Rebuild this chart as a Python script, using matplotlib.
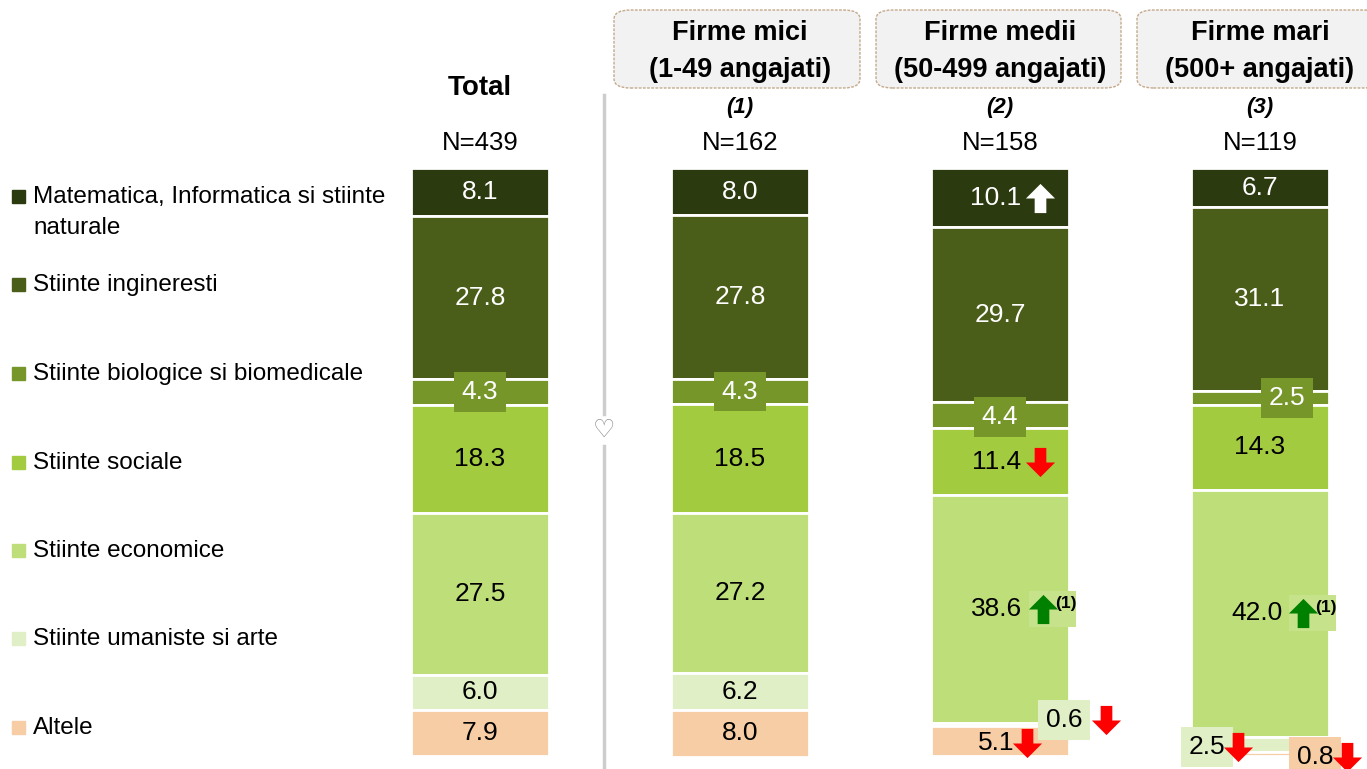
import matplotlib
matplotlib.use("Agg")
import numpy as np
import matplotlib.pyplot as plt
from matplotlib.path import Path
from matplotlib.patches import FancyBboxPatch, Rectangle
import matplotlib.transforms as mtransforms

plt.rcParams['font.family'] = ['Liberation Sans', 'DejaVu Sans']

# data
categories = ["Matematica, Informatica si stiinte\nnaturale", "Stiinte ingineresti",
              "Stiinte biologice si biomedicale", "Stiinte sociale", "Stiinte economice",
              "Stiinte umaniste si arte", "Altele"]
groups = ["Total", "Firme mici\n(1-49 angajati)", "Firme medii\n(50-499 angajati)",
          "Firme mari\n(500+ angajati)"]
group_ids = ["", "(1)", "(2)", "(3)"]
n_sizes = [439, 162, 158, 119]
total = [8.1, 27.8, 4.3, 18.3, 27.5, 6.0, 7.9]
mici = [8.0, 27.8, 4.3, 18.5, 27.2, 6.2, 8.0]
medii = [10.1, 29.7, 4.4, 11.4, 38.6, 0.6, 5.1]
mari = [6.7, 31.1, 2.5, 14.3, 42.0, 2.5, 0.8]

colors = ['#2C3A0F', '#4A5E19', '#76962A', '#A3CB3F', '#BEDE7A', '#E0EFC6', '#F6CDA4']
text_colors = ['white', 'white', 'white', 'black', 'black', 'black', 'black']

W, H = 1367, 769
fig = plt.figure(figsize=(W / 100, H / 100), dpi=100)
top_px, bot_px = 168, 757
ax = fig.add_axes([0, 1 - bot_px / H, 1, (bot_px - top_px) / H])
ax.set_xlim(-480 / 260, (W - 480) / 260)
ax.set_ylim(100, 0)
ax.axis('off')

data = np.array([total, mici, medii, mari])
x = np.arange(len(groups))
bottoms = np.zeros(len(groups))
for j in range(len(categories)):
    ax.bar(x, data[:, j], bottom=bottoms, width=0.53, color=colors[j],
           edgecolor='white', linewidth=2, align='center')
    bottoms += data[:, j]

centers = np.cumsum(data, axis=1) - data / 2

# label styling: (group, category) -> offsets in pixels, boxes, arrows
special = {
    (0, 2): dict(box=True),
    (1, 2): dict(box=True),
    (2, 2): dict(box=True, dy=-2),
    (3, 2): dict(box=True, dx=27),
    (2, 0): dict(dx=-4, arrow=('up', 'white'), adx=40),
    (2, 3): dict(dx=-3, arrow=('down', '#FF0000'), adx=40),
    (2, 4): dict(dx=-3, arrow=('up', '#008000'), adx=43, sup=True),
    (3, 4): dict(dx=-3, arrow=('up', '#008000'), adx=43, sup=True),
    (2, 5): dict(box=True, dx=64, dy=5, arrow=('down', '#FF0000'), adx=106),
    (2, 6): dict(dx=-4, dy=-2, arrow=('down', '#FF0000'), adx=27),
    (3, 5): dict(box=True, dx=-53, dy=-3, arrow=('down', '#FF0000'), adx=-22),
    (3, 6): dict(box=True, dx=55, dy=-3, arrow=('down', '#FF0000'), adx=87),
}

down = Path([(-0.2, 0.5), (0.2, 0.5), (0.2, 0.0), (0.5, 0.0), (0, -0.5), (-0.5, 0.0),
             (-0.2, 0.0), (-0.2, 0.5)], closed=True)
up = Path([(vx, -vy) for vx, vy in down.vertices], closed=True)
ident = mtransforms.IdentityTransform()

for i in range(len(groups)):
    for j in range(len(categories)):
        s = special.get((i, j), {})
        dx, dy = s.get('dx', 0), s.get('dy', 0)
        bbox = None
        if s.get('box'):
            bbox = dict(boxstyle='square,pad=0.3', fc=colors[j], ec='none')
        ax.annotate(f"{data[i, j]:.1f}", (x[i], centers[i, j]), xytext=(dx, dy),
                    textcoords='offset pixels', ha='center', va='center', fontsize=19,
                    color=text_colors[j], bbox=bbox, annotation_clip=False, zorder=4)
        if 'arrow' in s:
            kind, col = s['arrow']
            px, py = ax.transData.transform((x[i], centers[i, j]))
            if s.get('sup'):
                ax.add_patch(Rectangle((px + 29, py - 18), 47, 36, transform=ident,
                                       fc='#C6E28A', ec='none', zorder=3, clip_on=False))
                ax.text(px + 66, py + 6, "(1)", transform=ident, ha='center', va='center',
                        fontsize=12.5, fontweight='bold', zorder=6)
            tr = mtransforms.offset_copy(ax.transData, fig=fig, x=s['adx'], y=dy, units='dots')
            ax.plot(x[i], centers[i, j], transform=tr, marker=up if kind == 'up' else down,
                    markersize=21, color=col, markeredgewidth=0, linestyle='none',
                    clip_on=False, zorder=6)

# headers
bt = mtransforms.blended_transform_factory(ax.transData, fig.transFigure)
def fy(py):
    return 1 - py / H

ax.text(x[0], fy(88), groups[0], transform=bt, ha='center', va='center', fontsize=20,
        fontweight='bold')
box_x = [(614, 860), (876, 1121), (1137, 1380)]
for i in range(1, len(groups)):
    x0, x1 = box_x[i - 1]
    ax.add_patch(FancyBboxPatch((x0 / W, fy(88)), (x1 - x0) / W, 78 / H,
                                boxstyle='round,pad=0,rounding_size=0.012',
                                transform=fig.transFigure, fc='#F2F2F2', ec='#C4A98A',
                                lw=1, ls=(0, (2, 1)), clip_on=False, zorder=1))
    line1, line2 = groups[i].split("\n")
    ax.text(x[i], fy(33), line1, transform=bt, ha='center', va='center', fontsize=19.5,
            fontweight='bold', zorder=5)
    ax.text(x[i], fy(70), line2, transform=bt, ha='center', va='center', fontsize=19.5,
            fontweight='bold', zorder=5)
    ax.text(x[i], fy(108), group_ids[i], transform=bt, ha='center', va='center', fontsize=16,
            fontweight='bold', style='italic')
for i in range(len(groups)):
    ax.text(x[i], fy(143), f"N={n_sizes[i]}", transform=bt, ha='center', va='center',
            fontsize=18.5)

# separator
fig.add_artist(plt.Line2D([604 / W, 604 / W], [fy(95), fy(414)], transform=fig.transFigure,
                          color='#CDCDCD', lw=2.5))
fig.add_artist(plt.Line2D([604 / W, 604 / W], [fy(446), 0], transform=fig.transFigure,
                          color='#CDCDCD', lw=2.5))
fig.text(604 / W, fy(430), "\u2661", ha='center', va='center', fontsize=18, color='#8E8E8E',
         family='DejaVu Sans', fontweight='bold')

# legend
legend_y = [196, 284, 373, 462, 550, 638, 727]
for j, lab in enumerate(categories):
    fig.patches.append(Rectangle((12 / W, fy(legend_y[j] + 7)), 13 / W, 13 / H,
                                 transform=fig.transFigure, color=colors[j]))
    fig.text(33 / W, fy(legend_y[j] - 10), lab, ha='left', va='top', fontsize=17.5,
             linespacing=1.5)

fig.savefig("out.png", dpi=100)
